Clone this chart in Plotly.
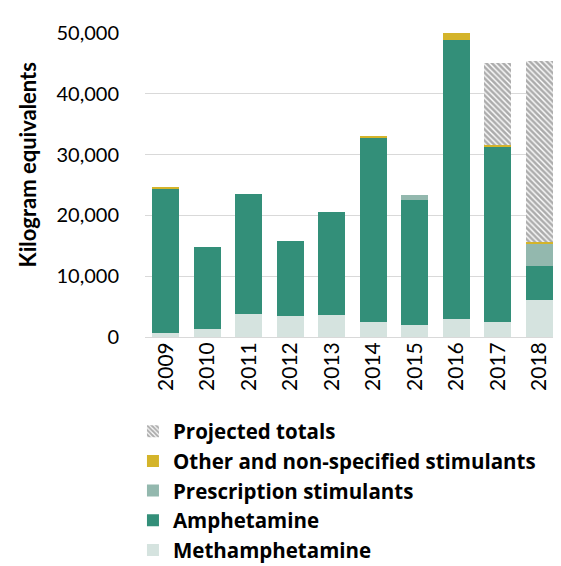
import plotly.graph_objects as go

years = ["2009", "2010", "2011", "2012", "2013", "2014", "2015", "2016", "2017", "2018"]
methamphetamine = [720, 1380, 3850, 3400, 3620, 2470, 2030, 2960, 2470, 6150]
amphetamine = [23570, 13490, 19620, 12390, 16890, 30380, 20450, 45950, 28890, 5530]
prescription = [0, 0, 0, 0, 0, 0, 820, 0, 0, 3680]
other = [330, 0, 0, 0, 0, 270, 0, 1150, 170, 260]
projected = [0, 0, 0, 0, 0, 0, 0, 0, 13600, 29730]

font_family = "Lato, Open Sans, sans-serif"

fig = go.Figure()
fig.add_trace(go.Bar(x=years, y=methamphetamine, name="Methamphetamine",
                     marker=dict(color="#d5e3df", line=dict(width=0))))
fig.add_trace(go.Bar(x=years, y=amphetamine, name="Amphetamine",
                     marker=dict(color="#338f79", line=dict(width=0))))
fig.add_trace(go.Bar(x=years, y=prescription, name="Prescription stimulants",
                     marker=dict(color="#93b8ae", line=dict(width=0))))
fig.add_trace(go.Bar(x=years, y=other, name="Other and non-specified stimulants",
                     marker=dict(color="#d4b42a", line=dict(width=0))))
fig.add_trace(go.Bar(x=years, y=projected, name="Projected totals",
                     marker=dict(color="white", line=dict(width=0),
                                 pattern=dict(shape="\\", fgcolor="#5a5a5a", bgcolor="white",
                                              size=4, solidity=0.65))))

fig.update_layout(
    width=553, height=558,
    barmode="stack", bargap=0.35,
    plot_bgcolor="white", paper_bgcolor="white",
    margin=dict(l=137, r=1, t=25, b=229, autoexpand=False),
    font=dict(family=font_family, color="black", size=18),
    showlegend=True,
    legend=dict(
        traceorder="reversed",
        orientation="v",
        x=-0.029, xanchor="left",
        y=-0.245, yanchor="top",
        font=dict(size=20.5, family="Open Sans, sans-serif", weight="bold"),
        itemwidth=30,
        tracegroupgap=0,
    ),
    annotations=[dict(
        text="<b>Kilogram equivalents</b>", textangle=-90,
        xref="paper", yref="paper", x=-0.284, y=0.565,
        xanchor="center", yanchor="middle", showarrow=False,
        font=dict(size=22, family=font_family, color="black"),
    )],
)
fig.update_xaxes(tickangle=-90, showline=False, ticks="", automargin=False,
                 tickfont=dict(size=21))
fig.update_yaxes(range=[0, 50000], dtick=10000, tickformat=",", showgrid=True,
                 automargin=False,
                 gridcolor="#d9d9d9", gridwidth=1.3, zeroline=True, zerolinecolor="#d9d9d9",
                 zerolinewidth=1.3,
                 ticks="", ticklabelstandoff=25,
                 tickfont=dict(size=20))

fig.write_html("out.html")
